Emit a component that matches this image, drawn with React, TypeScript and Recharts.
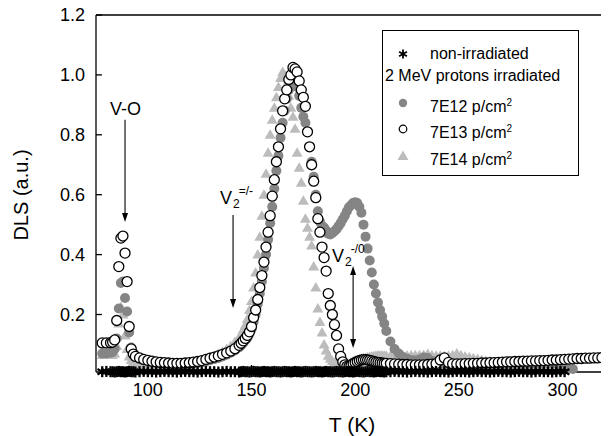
import { ScatterChart, Scatter, XAxis, YAxis, ReferenceLine, ReferenceDot } from 'recharts'

// temperature grid (K)
const temps = [
    78, 80, 82,
    83, 84, 85, 86, 87, 88, 89, 90, 91, 92, 93, 94,
    96, 98, 100, 102, 104, 106, 108, 110, 112, 114, 116, 118, 120, 122, 124, 126, 128, 130, 132, 134, 136, 138, 140, 142, 144,
    145, 146, 147, 148, 149, 150, 151, 152, 153, 154,
    155, 156, 157, 158, 159, 160, 161, 162, 163, 164,
    165, 166, 167, 168, 169, 170, 171, 172, 173, 174,
    175, 176, 177, 178, 179, 180, 181, 182, 183, 184,
    185, 186, 187, 188, 189, 190, 191, 192, 193, 194,
    195, 196, 197, 198, 199, 200, 201, 202, 203, 204,
    205, 206, 207, 208, 209, 210, 211, 212, 213, 214,
    215,
    217, 219, 221, 223, 225, 227, 229, 231, 233, 235,
    237, 239, 241, 243, 245, 247, 249, 251, 253, 255,
    257, 259, 261, 263, 265, 267, 269, 271, 273, 275,
    277, 279, 281, 283, 285, 287, 289, 291, 293, 295,
    297, 299, 301, 303, 305, 307, 309, 311, 313, 315,
    317, 319,
]

const nonIrradiated = [
    0.009, 0.01, 0.009,
    0.009, 0.008, 0.009, 0.01, 0.009, 0.009, 0.008, 0.009, 0.01, 0.009, 0.009, 0.008,
    0.009, 0.01, 0.009, 0.009, 0.008, 0.009, 0.01, 0.009, 0.009, 0.008, 0.009, 0.01, 0.009, 0.009, 0.008, 0.009, 0.01, 0.009, 0.009, 0.008, 0.009, 0.01, 0.009, 0.009, 0.008,
    0.009, 0.01, 0.009, 0.009, 0.008, 0.009, 0.01, 0.009, 0.009, 0.008,
    0.009, 0.01, 0.009, 0.009, 0.008, 0.009, 0.01, 0.009, 0.009, 0.008,
    0.009, 0.01, 0.009, 0.009, 0.008, 0.009, 0.01, 0.009, 0.009, 0.008,
    0.009, 0.01, 0.009, 0.009, 0.008, 0.009, 0.01, 0.009, 0.009, 0.008,
    0.009, 0.01, 0.009, 0.009, 0.008, 0.009, 0.01, 0.009, 0.009, 0.008,
    0.009, 0.01, 0.009, 0.009, 0.008, 0.009, 0.01, 0.009, 0.009, 0.008,
    0.009, 0.01, 0.009, 0.009, 0.008, 0.009, 0.01, 0.009, 0.009, 0.008,
    0.009,
    0.009, 0.01, 0.009, 0.009, 0.008, 0.009, 0.01, 0.009, 0.009, 0.008,
    0.009, 0.01, 0.009, 0.009, 0.008, 0.009, 0.01, 0.009, 0.009, 0.008,
    0.009, 0.01, 0.009, 0.009, 0.008, 0.009, 0.01, 0.009, 0.009, 0.008,
    0.009, 0.01, 0.009, 0.009, 0.008, 0.009, 0.01, 0.009, 0.009, 0.008,
    0.009, 0.01, 0.009, null, null, null, null, null, null, null,
    null, null,
]

const dose7e12 = [
    0.07, 0.07, 0.072,
    0.075, 0.085, 0.12, 0.22, 0.305, 0.31, 0.255, 0.21, 0.14, 0.09, 0.07, 0.062,
    0.052, 0.047, 0.043, 0.04, 0.037, 0.035, 0.033, 0.032, 0.031, 0.031, 0.031, 0.032, 0.033, 0.035, 0.037, 0.04, 0.043, 0.047, 0.051, 0.055, 0.06, 0.066, 0.072, 0.08, 0.09,
    0.097, 0.105, 0.113, 0.122, 0.135, 0.15, 0.175, 0.2, 0.235, 0.27,
    0.31, 0.355, 0.4, 0.45, 0.505, 0.56, 0.62, 0.68, 0.73, 0.79,
    0.84, 0.88, 0.92, 0.95, 0.97, 0.98, 0.975, 0.96, 0.93, 0.89,
    0.86, 0.84, 0.81, 0.76, 0.71, 0.66, 0.6, 0.545, 0.51, 0.495,
    0.49, 0.48, 0.47, 0.467, 0.472, 0.478, 0.485, 0.495, 0.505, 0.518,
    0.53, 0.545, 0.558, 0.565, 0.572, 0.575, 0.572, 0.56, 0.54, 0.5,
    0.46, 0.42, 0.38, 0.34, 0.3, 0.27, 0.24, 0.215, 0.193, 0.17,
    0.145,
    0.11, 0.085, 0.07, 0.058, 0.052, 0.048, 0.046, 0.05, 0.056, 0.055,
    0.045, 0.038, 0.035, 0.034, 0.033, 0.033, 0.033, 0.032, 0.032, 0.032,
    0.032, 0.032, 0.032, 0.032, 0.033, 0.033, 0.033, 0.034, 0.034, 0.034,
    0.035, 0.035, 0.035, 0.036, 0.036, 0.036, 0.037, 0.037, 0.037, 0.037,
    0.036, 0.034, 0.03, 0.024, 0.018, null, null, null, null, null,
    null, null,
]

const dose7e13 = [
    0.105, 0.105, 0.106,
    0.108, 0.115, 0.18, 0.36, 0.455, 0.462, 0.405, 0.31, 0.16, 0.085, 0.068, 0.06,
    0.055, 0.05, 0.047, 0.044, 0.042, 0.04, 0.039, 0.038, 0.037, 0.037, 0.037, 0.038, 0.039, 0.041, 0.043, 0.046, 0.05, 0.054, 0.058, 0.062, 0.067, 0.072, 0.078, 0.086, 0.097,
    0.104, 0.112, 0.12, 0.13, 0.142, 0.16, 0.19, 0.215, 0.25, 0.29,
    0.33, 0.375, 0.425, 0.475, 0.53, 0.595, 0.65, 0.71, 0.76, 0.82,
    0.88, 0.92, 0.95, 0.985, 1.0, 1.025, 1.02, 1.01, 0.98, 0.95,
    0.925, 0.895, 0.81, 0.76, 0.7, 0.645, 0.59, 0.52, 0.475, 0.425,
    0.39, 0.345, 0.27, 0.23, 0.2, 0.166, 0.13, 0.085, 0.06, 0.042,
    0.032, 0.027, 0.026, 0.03, 0.036, 0.04, 0.043, 0.046, 0.048, 0.049,
    0.049, 0.048, 0.047, 0.045, 0.043, 0.041, 0.04, 0.039, 0.038, 0.037,
    0.037,
    0.036, 0.035, 0.034, 0.033, 0.033, 0.032, 0.032, 0.032, 0.032, 0.033,
    0.034, 0.036, 0.048, 0.055, 0.04, 0.035, 0.035, 0.035, 0.036, 0.036,
    0.037, 0.037, 0.038, 0.038, 0.039, 0.039, 0.04, 0.041, 0.042, 0.042,
    0.043, 0.043, 0.044, 0.044, 0.045, 0.045, 0.046, 0.046, 0.047, 0.048,
    0.048, 0.049, 0.05, 0.051, 0.052, 0.053, 0.053, 0.054, 0.054, 0.055,
    0.055, 0.056,
]

const dose7e14 = [
    0.065, 0.065, 0.065,
    0.066, 0.07, 0.095, 0.17, 0.225, 0.2, 0.13, 0.085, 0.06, 0.048, 0.042, 0.038,
    0.033, 0.03, 0.028, 0.027, 0.026, 0.026, 0.026, 0.026, 0.027, 0.028, 0.029, 0.031, 0.033, 0.036, 0.04, 0.044, 0.049, 0.055, 0.061, 0.068, 0.076, 0.085, 0.095, 0.108, 0.122,
    0.135, 0.15, 0.165, 0.185, 0.215, 0.245, 0.29, 0.34, 0.4, 0.46,
    0.53, 0.6, 0.67, 0.74, 0.8, 0.85, 0.89, 0.925, 0.96, 0.99,
    1.01, 1.0, 0.97, 0.93, 0.89, 0.86, 0.82, 0.74, 0.69, 0.64,
    0.58, 0.52, 0.49, 0.46, 0.43, 0.36, 0.29, 0.22, 0.175, 0.14,
    0.1, 0.08, 0.062, 0.052, 0.045, 0.038, 0.032, 0.027, 0.025, 0.027,
    0.03, 0.033, 0.036, 0.04, 0.043, 0.046, 0.048, 0.05, 0.052, 0.054,
    0.055, 0.057, 0.058, 0.06, 0.061, 0.062, 0.063, 0.063, 0.063, 0.062,
    0.062,
    0.062, 0.062, 0.062, 0.063, 0.063, 0.064, 0.064, 0.064, 0.065, 0.068,
    0.064, 0.062, 0.062, 0.061, 0.062, 0.064, 0.07, 0.064, 0.06, 0.057,
    0.054, 0.051, 0.048, 0.045, 0.043, 0.041, 0.039, 0.037, 0.036, 0.035,
    0.034, 0.033, 0.032, 0.031, 0.03, 0.029, 0.028, 0.027, 0.026, 0.025,
    0.024, 0.022, 0.02, 0.018, null, null, null, null, null, null,
    null, null,
]

const xMajorTicks = [100, 150, 200, 250, 300]
const xMinorTicks = [125, 175, 225, 275]
const xTopTicks = [100, 125, 150, 175, 200, 225, 250, 275, 300]
const yMajorTicks = [0.2, 0.4, 0.6, 0.8, 1.0, 1.2]
const yMinorTicks = [0.1, 0.3, 0.5, 0.7, 0.9, 1.1]

const FONT = '"Liberation Sans", Arial, Helvetica, sans-serif'
const DARK_GRAY = '#858585'
const LIGHT_GRAY = '#bcbcbc'

const toPoints = (vals: (number | null)[]) =>
    temps.map((t, i) => ({ t, v: vals[i] })).filter(p => p.v != null)

const OpenCircle = (p: any) => <circle cx={p.cx} cy={p.cy} r={5} fill="#fff" stroke="#000" strokeWidth={1.3} />
const GrayCircle = (p: any) => <circle cx={p.cx} cy={p.cy} r={5} fill={DARK_GRAY} />
const Triangle = (p: any) => (
    <polygon points={`${p.cx},${p.cy - 5.5} ${p.cx - 5.5},${p.cy + 4} ${p.cx + 5.5},${p.cy + 4}`} fill={LIGHT_GRAY} />
)
const Asterisk = (p: any) => {
    const s = p.s ?? 5.5
    const w = p.w ?? 2.3
    return (
        <g stroke="#000" strokeWidth={w}>
            <line x1={p.cx} y1={p.cy - s} x2={p.cx} y2={p.cy + s} />
            <line x1={p.cx - s * 0.87} y1={p.cy - s / 2} x2={p.cx + s * 0.87} y2={p.cy + s / 2} />
            <line x1={p.cx - s * 0.87} y1={p.cy + s / 2} x2={p.cx + s * 0.87} y2={p.cy - s / 2} />
        </g>
    )
}

// arrow heads for annotations
const HeadDown = (p: any) => <polygon points={`${p.cx},${p.cy} ${p.cx - 3},${p.cy - 9} ${p.cx + 3},${p.cy - 9}`} fill="#000" />
const HeadUp = (p: any) => <polygon points={`${p.cx},${p.cy} ${p.cx - 3},${p.cy + 9} ${p.cx + 3},${p.cy + 9}`} fill="#000" />

const VoLabel = (p: any) => (
    <text x={p.cx} y={p.cy} fontSize={18} fill="#000">V-O</text>
)
const V2Label = (sup: string) => (p: any) => (
    <text x={p.cx} y={p.cy} fontSize={18} fill="#000">
        V
        <tspan fontSize={12} dx={1} dy={4}>2</tspan>
        <tspan fontSize={12} dx={-1} dy={-13}>{sup}</tspan>
    </text>
)

const legendRow = (top: number, left: number, children: any) => (
    <div style={{ position: 'absolute', top: top - 10, left, height: 20, lineHeight: '20px', whiteSpace: 'nowrap' }}>{children}</div>
)

const Sym = ({ children }: any) => (
    <svg width={14} height={14} style={{ position: 'absolute', left: 13, top: 3 }}>{children}</svg>
)

export default function App() {
    const axisStroke = { stroke: '#000', strokeWidth: 1.3 }
    return (
        <div style={{ position: 'relative', width: 601, height: 428, fontFamily: FONT, background: '#fff' }}>
            <style>{'.recharts-surface { overflow: visible; }'}</style>
            <ScatterChart width={601} height={428} margin={{ top: 6, right: 3, bottom: 62, left: 86 }}>
                <XAxis xAxisId="b" type="number" dataKey="t" domain={[75, 320]} ticks={xMajorTicks}
                    interval={0} height={1} tickSize={-7} tickMargin={18} axisLine={axisStroke} tickLine={axisStroke}
                    tick={{ fill: '#000', fontSize: 18 }} />
                <XAxis xAxisId="bm" type="number" domain={[75, 320]} allowDataOverflow ticks={xMinorTicks}
                    interval={0} height={1} tickSize={-6} axisLine={false} tickLine={axisStroke} tick={false} />
                <XAxis xAxisId="t" orientation="top" type="number" domain={[75, 320]} allowDataOverflow ticks={xTopTicks}
                    interval={0} height={1} tickSize={-6} axisLine={axisStroke} tickLine={axisStroke} tick={false} />
                <YAxis yAxisId="l" type="number" dataKey="v" domain={[0.008, 1.2]} ticks={yMajorTicks}
                    interval={0} width={1} tickSize={-6} tickMargin={17} axisLine={axisStroke} tickLine={axisStroke}
                    tick={{ fill: '#000', fontSize: 18 }} tickFormatter={(v: number) => v.toFixed(1)} />
                <YAxis yAxisId="lm" type="number" domain={[0.008, 1.2]} allowDataOverflow ticks={yMinorTicks}
                    interval={0} width={1} tickSize={-5} axisLine={false} tickLine={axisStroke} tick={false} />
                <YAxis yAxisId="r" orientation="right" type="number" domain={[0.008, 1.2]} allowDataOverflow ticks={yMajorTicks}
                    interval={0} width={1} tickSize={-6} axisLine={axisStroke} tickLine={axisStroke} tick={false} />
                <YAxis yAxisId="rm" orientation="right" type="number" domain={[0.008, 1.2]} allowDataOverflow ticks={yMinorTicks}
                    interval={0} width={1} tickSize={-5} axisLine={false} tickLine={axisStroke} tick={false} />

                <Scatter name="7E14 p/cm2" xAxisId="b" yAxisId="l" data={toPoints(dose7e14)} shape={Triangle} isAnimationActive={false} />
                <Scatter name="7E12 p/cm2" xAxisId="b" yAxisId="l" data={toPoints(dose7e12)} shape={GrayCircle} isAnimationActive={false} />
                <Scatter name="7E13 p/cm2" xAxisId="b" yAxisId="l" data={toPoints(dose7e13)} shape={OpenCircle} isAnimationActive={false} />
                <Scatter name="non-irradiated" xAxisId="b" yAxisId="l" data={toPoints(nonIrradiated)} shape={Asterisk} isAnimationActive={false} />

                {/* V-O */}
                <ReferenceDot xAxisId="b" yAxisId="l" x={81.7} y={0.866} r={0} ifOverflow="visible" shape={VoLabel} />
                <ReferenceLine xAxisId="b" yAxisId="l" segment={[{ x: 89, y: 0.85 }, { x: 89, y: 0.53 }]} stroke="#000" strokeWidth={1.1} ifOverflow="visible" />
                <ReferenceDot xAxisId="b" yAxisId="l" x={89} y={0.509} r={0} ifOverflow="visible" shape={HeadDown} />

                {/* V2 =/- */}
                <ReferenceDot xAxisId="b" yAxisId="l" x={134.8} y={0.569} r={0} ifOverflow="visible" shape={V2Label('=/-')} />
                <ReferenceLine xAxisId="b" yAxisId="l" segment={[{ x: 141.1, y: 0.532 }, { x: 141.1, y: 0.24 }]} stroke="#000" strokeWidth={1.1} ifOverflow="visible" />
                <ReferenceDot xAxisId="b" yAxisId="l" x={141.1} y={0.222} r={0} ifOverflow="visible" shape={HeadDown} />

                {/* V2 -/0 */}
                <ReferenceDot xAxisId="b" yAxisId="l" x={188.8} y={0.375} r={0} ifOverflow="visible" shape={V2Label('-/0')} />
                <ReferenceLine xAxisId="b" yAxisId="l" segment={[{ x: 199, y: 0.35 }, { x: 199, y: 0.1 }]} stroke="#000" strokeWidth={1.1} ifOverflow="visible" />
                <ReferenceDot xAxisId="b" yAxisId="l" x={199} y={0.362} r={0} ifOverflow="visible" shape={HeadUp} />
                <ReferenceDot xAxisId="b" yAxisId="l" x={199} y={0.088} r={0} ifOverflow="visible" shape={HeadDown} />
            </ScatterChart>

            {/* axis titles */}
            <div style={{ position: 'absolute', left: 13, top: 187, fontSize: 20, transform: 'translate(-50%, -50%) rotate(-90deg)', whiteSpace: 'nowrap' }}>
                DLS (a.u.)
            </div>
            <div style={{ position: 'absolute', left: 344, top: 417, fontSize: 21, transform: 'translate(-50%, -50%)', whiteSpace: 'nowrap' }}>
                T (K)
            </div>

            {/* legend */}
            <div style={{ position: 'absolute', left: 374, top: 22, width: 197, height: 146, border: '1.3px solid #000', boxSizing: 'border-box', background: '#fff', fontSize: 16 }}>
                {legendRow(23, 0, <>
                    <Sym><Asterisk cx={7} cy={7} s={4.5} w={1.8} /></Sym>
                    <span style={{ position: 'absolute', left: 47 }}>non-irradiated</span>
                </>)}
                {legendRow(45, 2, <span>2 MeV protons irradiated</span>)}
                {legendRow(72, 0, <>
                    <Sym><circle cx={7} cy={7} r={4.2} fill={DARK_GRAY} /></Sym>
                    <span style={{ position: 'absolute', left: 47 }}>7E12 p/cm<sup style={{ fontSize: 10 }}>2</sup></span>
                </>)}
                {legendRow(98, 0, <>
                    <Sym><circle cx={7} cy={7} r={3.8} fill="#fff" stroke="#000" strokeWidth={1.2} /></Sym>
                    <span style={{ position: 'absolute', left: 47 }}>7E13 p/cm<sup style={{ fontSize: 10 }}>2</sup></span>
                </>)}
                {legendRow(125, 0, <>
                    <Sym><polygon points="7,1.5 1.5,11 12.5,11" fill={LIGHT_GRAY} /></Sym>
                    <span style={{ position: 'absolute', left: 47 }}>7E14 p/cm<sup style={{ fontSize: 10 }}>2</sup></span>
                </>)}
            </div>
        </div>
    )
}
